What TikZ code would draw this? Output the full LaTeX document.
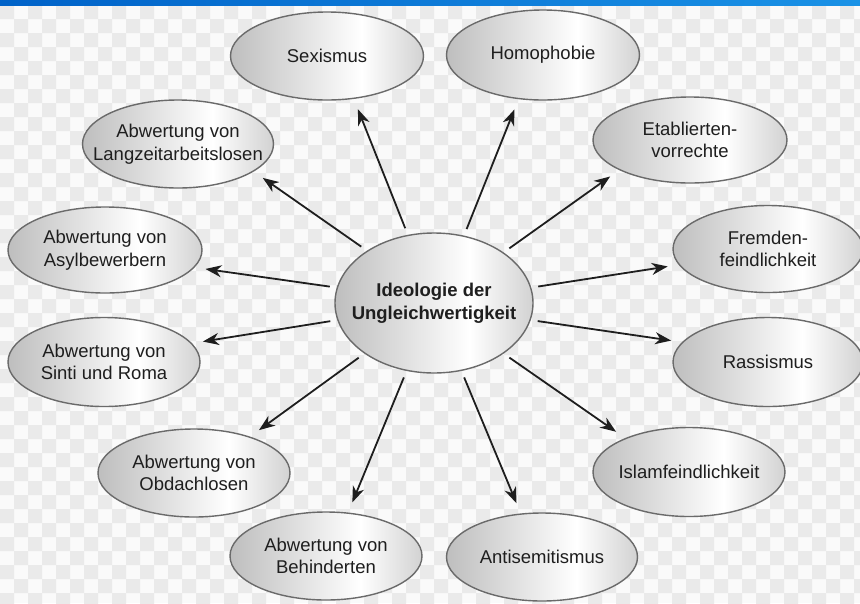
\documentclass[tikz,border=0pt]{standalone}
\usepackage{fontspec}
\setmainfont{Liberation Sans}
\usetikzlibrary{arrows.meta,shapes.geometric}
\definecolor{cellgray}{HTML}{EAEAEA}
\definecolor{cellwhite}{HTML}{FAFAFA}
\definecolor{barleft}{HTML}{0062C8}
\definecolor{barright}{HTML}{1A92E6}
\definecolor{ellgray}{HTML}{BEBEBE}
\definecolor{ellright}{HTML}{D2D2D2}
\definecolor{outline}{HTML}{6A6A6A}
\definecolor{ink}{HTML}{1E1E1E}
\pgfdeclarehorizontalshading{ellshade}{100bp}{color(0bp)=(ellgray); color(25bp)=(ellgray); color(59bp)=(white); color(75bp)=(ellright); color(100bp)=(ellright)}
\tikzset{
  bub/.style={ellipse, draw=outline, line width=1.4pt, shading=ellshade, inner sep=0pt,
    minimum width=192pt, minimum height=88pt},
  lab/.style={align=center, inner sep=0pt, text=ink, font=\fontsize{18.5}{22.5}\selectfont},
  hublab/.style={lab, font=\fontsize{18.5}{23}\selectfont\bfseries},
  arr/.style={-{Stealth[length=16pt,width=12pt,inset=5pt]}, line width=1.8pt, draw=ink,
    shorten <=7pt, shorten >=11pt}
}
\begin{document}
\begin{tikzpicture}[x=1pt,y=-1pt]
\useasboundingbox (0,0) rectangle (860,603);
\begin{scope}
\clip (0,0) rectangle (860,603);
\fill[cellwhite] (0,0) rectangle (860,603);
\fill[cellgray] \foreach \i in {0,...,61} { \foreach \j in {0,...,21} {
  ({\i*14},{(2*\j+mod(\i,2))*14+5}) rectangle ++(14,14) } };
\shade[left color=barleft,right color=barright] (0,0) rectangle (860,5);
\end{scope}

\node[bub, minimum width=198pt, minimum height=140pt,
  label={[hublab]center:Ideologie der\\Ungleichwertigkeit}] (c) at (434,303) {};
\node[bub, minimum width=193pt, label={[lab]center:Sexismus}] (sex) at (327,56) {};
\node[bub, minimum width=193pt, minimum height=90pt, label={[lab]center:Homophobie}] (hom) at (543,55) {};
\node[bub, minimum width=194pt, minimum height=86pt, label={[lab]center:Etablierten-\\vorrechte}] (eta) at (690,140) {};
\node[bub, minimum width=191pt, label={[lab]center:Abwertung von\\Langzeitarbeitslosen}] (lang) at (178,144) {};
\node[bub, minimum width=194pt, minimum height=86pt, label={[lab]center:Abwertung von\\Asylbewerbern}] (asyl) at (105,250) {};
\node[bub, minimum width=190pt, minimum height=87pt, label={[lab]center:Fremden-\\feindlichkeit}] (frem) at (768,249) {};
\node[bub, minimum height=89pt, label={[lab]center:Abwertung von\\Sinti und Roma}] (sinti) at (104,362) {};
\node[bub, minimum width=190pt, minimum height=89pt, label={[lab]center:Rassismus}] (rass) at (768,362) {};
\node[bub, label={[lab]center:Abwertung von\\Obdachlosen}] (obd) at (194,473) {};
\node[bub, minimum height=89pt, label={[lab]center:Islamfeindlichkeit}] (isl) at (689,472) {};
\node[bub, label={[lab]center:Abwertung von\\Behinderten}] (beh) at (326,556) {};
\node[bub, minimum width=191pt, label={[lab]center:Antisemitismus}] (anti) at (542,557) {};

\draw[arr] (c.111) -- (sex.-58);
\draw[arr] (c.66) -- (hom.-119);
\draw[arr] (c.36) -- (eta.-157);
\draw[arr] (c.142.5) -- (lang.-20.7);
\draw[arr] (c.171) -- (asyl.-11);
\draw[arr] (c.9.5) -- (frem.-170);
\draw[arr] (c.-170.5) -- (sinti.12.3);
\draw[arr] (c.-10.6) -- (rass.167.5);
\draw[arr] (c.-144) -- (obd.33);
\draw[arr] (c.-36.3) -- (isl.152.7);
\draw[arr] (c.-112) -- (beh.63);
\draw[arr] (c.-68) -- (anti.116.5);
\end{tikzpicture}
\end{document}
